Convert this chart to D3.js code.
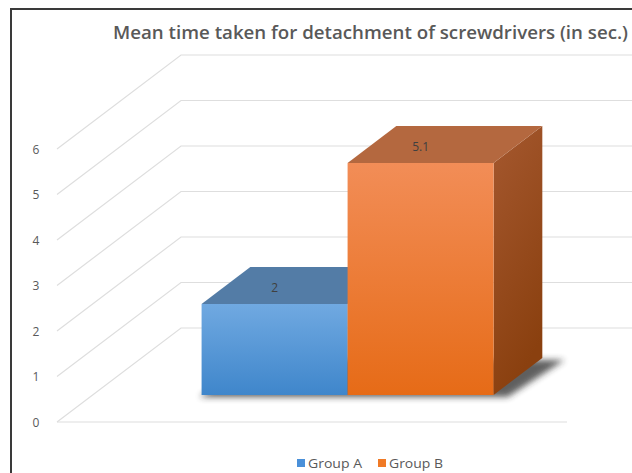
<!DOCTYPE html>
<html>
<head>
<meta charset="utf-8">
<script src="https://cdn.jsdelivr.net/npm/d3@7"></script>
<style>
  html, body { margin: 0; padding: 0; background: #fff; }
  svg { display: block; }
  text { font-family: "Open Sans", "Noto Sans", sans-serif; }
</style>
</head>
<body>
<svg id="chart" width="632" height="473"></svg>
<script>
// Chart data
const title = "Mean time taken for detachment of screwdrivers (in sec.)";
const groups = ["Group A", "Group B"];
const values = [2, 5.1];
const tickValues = [0, 1, 2, 3, 4, 5, 6];
const valueLabels = ["2", "5.1"];

// Colours per series: front face gradient, top face, side face gradient
const frontTop = ["#70a9e1", "#f28d57"];
const frontBottom = ["#3f86cb", "#e66b17"];
const topFace = ["#537ca6", "#b4683f"];
const sideTop = ["#4a73a0", "#a5582f"];
const sideBottom = ["#2f5f93", "#8a400f"];
const legendColors = ["#4a90d9", "#f07a26"];

const svg = d3.select("#chart");
const W = 632, H = 473;

// Oblique 3D projection: depth z in [0,1] shifts points right and up
const DX = 124, DY = 94;
const floorLeft = 57, floorRight = 567;
const y = d3.scaleLinear().domain([0, 6]).range([422, 149]);
const P = (xf, v, z) => [xf + z * DX, y(v) - z * DY];

// Bars sit between these depths on the floor
const zFront = 0.287, zBack = 0.68;
const clusterCenter = (floorLeft + floorRight) / 2;
const clusterHalf = 146;
const x = d3.scaleBand().domain(groups)
  .range([clusterCenter - clusterHalf, clusterCenter + clusterHalf])
  .padding(0);

const defs = svg.append("defs");
groups.forEach((g, i) => {
  const gf = defs.append("linearGradient").attr("id", "front" + i)
    .attr("x1", 0).attr("y1", 0).attr("x2", 0).attr("y2", 1);
  gf.append("stop").attr("offset", "0%").attr("stop-color", frontTop[i]);
  gf.append("stop").attr("offset", "100%").attr("stop-color", frontBottom[i]);
  const gs = defs.append("linearGradient").attr("id", "side" + i)
    .attr("x1", 0).attr("y1", 0).attr("x2", 0.3).attr("y2", 1);
  gs.append("stop").attr("offset", "0%").attr("stop-color", sideTop[i]);
  gs.append("stop").attr("offset", "100%").attr("stop-color", sideBottom[i]);
});
defs.append("filter").attr("id", "shadowBlur")
  .attr("x", "-20%").attr("y", "-20%").attr("width", "140%").attr("height", "140%")
  .append("feGaussianBlur").attr("stdDeviation", 3);

// Outer frame
svg.append("path")
  .attr("d", `M11,${H + 5} L11,9 L${W + 5},9`)
  .attr("fill", "none").attr("stroke", "#3a3a3a").attr("stroke-width", 2);

// Title
svg.append("text")
  .attr("x", 113).attr("y", 39)
  .attr("text-anchor", "start")
  .attr("font-size", 18).attr("font-weight", 600)
  .attr("textLength", 515).attr("lengthAdjust", "spacingAndGlyphs")
  .attr("fill", "#595959")
  .text(title);

// Gridlines: side wall diagonals and back wall horizontals
const grid = svg.append("g").attr("stroke", "#dedede").attr("stroke-width", 1.2).attr("fill", "none");
tickValues.forEach(v => {
  const a = P(floorLeft, v, 0), b = P(floorLeft, v, 1), c = P(floorRight + 200, v, 1);
  grid.append("path").attr("d", `M${a[0]},${a[1]} L${b[0]},${b[1]} L${c[0]},${c[1]}`);
});
// Front edge of the floor
{
  const a = P(floorLeft, 0, 0), b = P(floorRight, 0, 0);
  grid.append("line").attr("x1", a[0]).attr("y1", a[1]).attr("x2", b[0]).attr("y2", b[1]);
}

// Y-axis labels
svg.append("g").selectAll("text").data(tickValues).join("text")
  .attr("x", 36).attr("y", v => y(v) + 4.5)
  .attr("text-anchor", "middle")
  .attr("font-size", 12).attr("fill", "#595959")
  .text(d => d);

// Shadow cast by the bars on the floor
{
  const x0 = x(groups[0]) - 6, x1 = x(groups[groups.length - 1]) + x.bandwidth() + 10;
  const pts = [P(x0, 0, zFront), P(x1, 0, zFront), P(x1 + 8, 0, zBack), P(x0 + 8, 0, zBack)];
  svg.append("polygon")
    .attr("points", pts.map(p => p.join(",")).join(" "))
    .attr("transform", "translate(4,2)")
    .attr("fill", "#2a2a2a").attr("opacity", 0.75)
    .attr("filter", "url(#shadowBlur)");
}

// Bars, drawn left to right so each right neighbour overlaps
const bars = svg.append("g");
groups.forEach((g, i) => {
  const xl = x(g), xr = x(g) + x.bandwidth(), v = values[i];
  const fbl = P(xl, 0, zFront), fbr = P(xr, 0, zFront), ftl = P(xl, v, zFront), ftr = P(xr, v, zFront);
  const btl = P(xl, v, zBack), btr = P(xr, v, zBack), bbr = P(xr, 0, zBack);
  const poly = pts => pts.map(p => p.join(",")).join(" ");
  // Side face
  bars.append("polygon").attr("points", poly([fbr, ftr, btr, bbr])).attr("fill", `url(#side${i})`);
  // Top face
  bars.append("polygon").attr("points", poly([ftl, ftr, btr, btl])).attr("fill", topFace[i]);
  // Front face
  bars.append("polygon").attr("points", poly([fbl, fbr, ftr, ftl])).attr("fill", `url(#front${i})`);
});

// Value labels on the top faces
groups.forEach((g, i) => {
  const cx = x(g) + x.bandwidth() / 2;
  const p = P(cx, values[i], zFront);
  svg.append("text")
    .attr("x", p[0]).attr("y", p[1] - 12)
    .attr("text-anchor", "middle")
    .attr("font-size", 12).attr("fill", "#404040")
    .text(valueLabels[i]);
});

// Legend
const legend = svg.append("g").attr("transform", "translate(0,463)");
const legendX = [297, 378];
groups.forEach((g, i) => {
  legend.append("rect").attr("x", legendX[i]).attr("y", -4).attr("width", 8).attr("height", 8)
    .attr("fill", legendColors[i]);
  legend.append("text").attr("x", legendX[i] + 11).attr("y", 4.5)
    .attr("font-size", 12.5).attr("fill", "#595959")
    .attr("textLength", 54).attr("lengthAdjust", "spacingAndGlyphs")
    .text(g);
});
</script>
</body>
</html>
